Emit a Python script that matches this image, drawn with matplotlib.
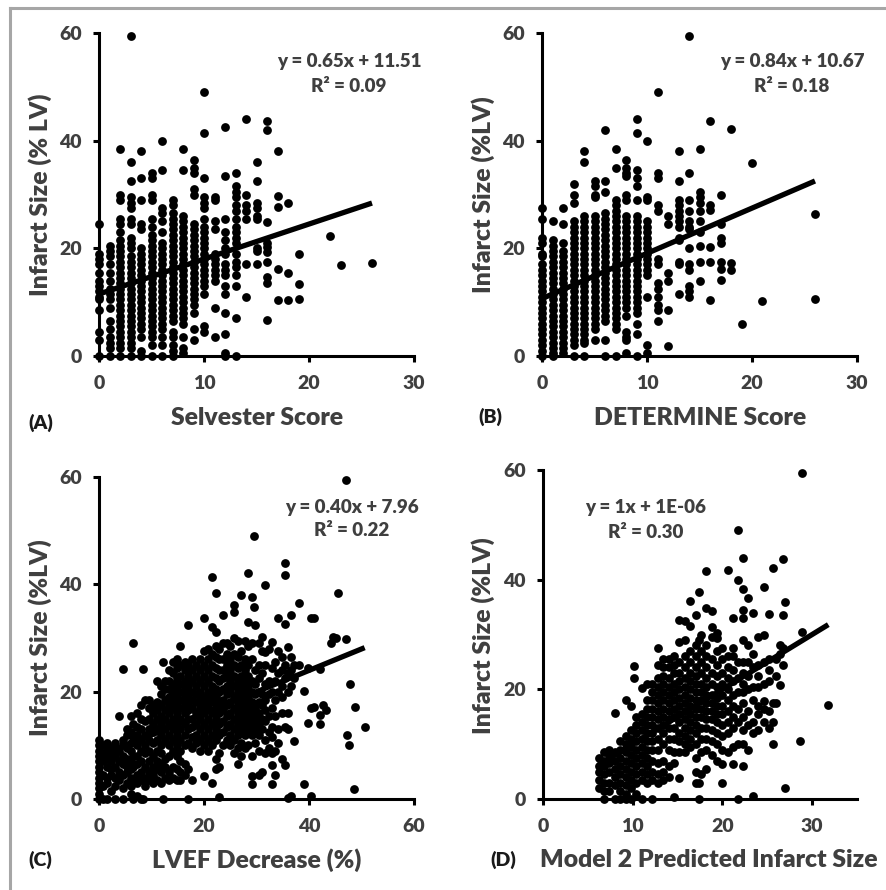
import matplotlib
matplotlib.use("Agg")
import matplotlib.pyplot as plt
from matplotlib.lines import Line2D

# -------------------------------------------------
# data (infarct size in %LV)
# -------------------------------------------------

# (A) Selvester score -> infarct sizes seen at that score
a_score = [0, 1, 2, 3, 4, 5, 6, 7, 8, 9, 10, 11, 12, 13, 14, 15, 16, 17, 18, 19, 22, 23, 26]
a_size = [
    [24.5, 19, 18, 17, 15.5, 14, 13, 12, 11, 10.5, 8.5, 4.5, 3, 0],
    [20.5, 19.5, 18.5, 17, 15.5, 14, 12.5, 11.5, 10.5, 9, 6.5, 5, 3.5, 2.5, 1.5, 0],
    [38.5, 30, 29, 25.5, 24.5, 23, 21.5, 20.5, 19.5, 18.5, 17.5, 16.5, 15.5, 14.5, 13.5, 12.5,
     11.5, 10.5, 9.5, 8.5, 7.5, 6.5, 5.5, 4.5, 3.5, 2.5, 1.5, 0],
    [59.5, 36, 32.5, 29.5, 28.5, 27.5, 25.5, 24.5, 22, 21, 20, 18.5, 17.5, 16.5, 15.5, 14.5,
     13.5, 12.5, 11.5, 10.5, 9.5, 8.5, 7.5, 6.5, 5.5, 4.5, 3.5, 2.5, 1.5, 0],
    [38, 33, 29, 24.5, 23.5, 20, 19, 18, 17, 16, 15, 14, 13, 12, 11, 10, 9, 8, 7, 6, 5, 3.5, 1, 0],
    [34, 33, 30, 29, 25.5, 24, 22.5, 21.5, 20.5, 19.5, 18.5, 17.5, 16.5, 15.5, 14.5, 13.5,
     12.5, 11.5, 10.5, 9.5, 8.5, 7.5, 6.5, 5.5, 4.5, 3.5, 2, 0],
    [40, 34.5, 27.5, 26.5, 25, 23, 21, 20, 19, 18, 17, 16, 15, 14, 13, 12, 11, 10, 9, 8, 7, 6,
     5, 3.5, 2, 0],
    [29, 28, 26.5, 25.5, 24.5, 23.5, 22.5, 21.5, 20.5, 19.5, 18.5, 17.5, 16.5, 15.5, 14.5, 13.5,
     12.5, 11.5, 10.5, 9.5, 8.5, 7.5, 6.5, 4.5, 3.5, 2, 1, 0],
    [38.5, 34.5, 26, 25, 24, 23, 22, 21, 20, 19, 18, 17, 16, 15, 14, 13, 12, 11, 10, 9, 8, 7, 6,
     3.5, 1.5, 0.5],
    [36.5, 35, 34, 31, 30, 24.5, 23.5, 22.5, 21.5, 20.5, 19.5, 18.5, 17.5, 16.5, 15.5, 14.5,
     13.5, 12.5, 11.5, 10.5, 9.5, 8, 5, 3],
    [49, 41.5, 33, 29.5, 28.5, 27.5, 25.5, 24, 23, 22, 21, 20, 19, 18, 17, 16, 15, 14, 13, 11.5,
     5.5, 4.5],
    [29.5, 29, 25, 23.5, 19, 18, 17, 16, 15, 14, 9, 3.5],
    [42.5, 33.5, 25.5, 23, 21.5, 20, 19, 17, 16, 15, 13, 11.5, 8, 4, 0.5, 0],
    [34, 31.5, 30.5, 29.5, 28, 27, 25.5, 24, 23, 22, 21, 19, 17.5, 16.5, 15, 13, 7, 0],
    [44, 30, 28, 27, 25.5, 17, 11],
    [36, 32.5, 28.5, 27.5, 26, 25.5, 20, 19.5, 17],
    [43.7, 41.9, 24.8, 20.9, 20.3, 19.4, 17.4, 14.7, 13.5, 6.6],
    [38, 29.8, 27.7, 16.2, 10.4],
    [28.4, 15.4, 10.4],
    [18.9, 13.3, 10.6],
    [22.3],
    [16.9],
    [17.3],
]

# (B) DETERMINE score -> infarct sizes
b_score = [0, 1, 2, 3, 4, 5, 6, 7, 8, 9, 10, 11, 12, 13, 14, 15, 16, 17, 18, 19, 20, 21, 26]
b_size = [
    [27.5, 25.5, 22, 21, 19, 18.5, 17, 16, 15, 14, 13, 12, 11, 10, 9, 8, 7, 6, 5, 4, 3, 2, 1, 0],
    [25, 21.5, 20.5, 19.5, 18.5, 17.5, 16.5, 15.5, 14.5, 13.5, 12.5, 11.5, 10.5, 9.5, 8.5, 7.5,
     6.5, 5.5, 4.5, 3.5, 2.5, 1.5, 0.5, 0],
    [27.5, 24.5, 21, 19.5, 18.5, 17.5, 16.5, 15.5, 14.5, 13.5, 12.5, 11.5, 10.5, 9.5, 8.5, 7.5,
     6.5, 5.5, 4.5, 3.5, 2.5, 1.5, 0.5],
    [32, 30, 28.5, 25, 24, 23, 22, 21, 20, 19, 18, 17, 16, 15, 14, 13, 12, 11, 10, 9, 8, 7, 6,
     5, 4, 3, 2, 0],
    [38, 36, 26, 25, 24, 23, 22, 21, 20, 19, 18, 17, 16, 15, 14, 13, 12, 11, 10, 9, 8, 7, 6, 5,
     4, 3, 2.5, 0],
    [32.5, 31.5, 30, 29.5, 26, 25, 24, 23, 22, 21, 20, 19, 18, 17, 16, 15, 14, 13, 12, 11, 10,
     9, 8, 7, 6, 5, 3],
    [42, 32.5, 30.5, 26.5, 25.5, 24.5, 23.5, 22.5, 21.5, 20.5, 19.5, 18.5, 17.5, 16.5, 15.5,
     14.5, 13.5, 12.5, 11.5, 10.5, 9.5, 8.5, 7.5, 6.5, 3, 0],
    [38.5, 35, 29, 28, 27, 26, 25, 24, 23, 22, 21, 20, 19, 18, 17, 16, 15, 14, 13, 12, 11, 10,
     9, 8, 7, 6, 5, 0],
    [36.5, 35, 34, 33.5, 30, 29, 26, 25, 24, 23, 22, 21, 20, 19, 18, 17, 16, 15, 14, 13, 12, 11,
     10, 9, 7.5, 4.5, 3.5, 3, 0.5],
    [44, 41.5, 34.5, 33, 31.5, 29, 26, 25, 24, 23, 22, 21, 20, 19, 18, 17, 16, 15, 14, 13, 12,
     11, 10, 9, 8, 6, 4, 0],
    [40, 29.5, 29, 25, 24, 23, 22, 21, 20, 19, 18, 17, 16, 15, 11, 2, 0.5],
    [49, 34, 33, 28, 27, 18, 17, 13.5, 12.5, 11, 9.5, 8.5, 6.5],
    [26, 24.5, 15.5, 14, 8.5, 1.8],
    [38, 32.5, 29, 28, 27, 26, 25, 24, 22, 21.5, 17.5, 17, 11.5],
    [59.5, 34, 29, 27, 25, 24, 23.5, 20, 17, 16, 13, 12, 11],
    [38.5, 30.5, 29.5, 28.5, 27, 25, 23, 20.5, 17.5, 14],
    [43.7, 28, 27.1, 20.3, 17.5, 10.4],
    [29.9, 24.6, 21.9, 20.9, 17.5, 16.1, 14.2],
    [42.1, 17.2, 16],
    [5.9],
    [35.8],
    [10.3],
    [26.4, 10.6],
]

# (C) LVEF decrease (%) -> infarct sizes, grouped in narrow x strips
c_lvef = [0, 0.7, 1.5, 2.3, 3.0, 3.8, 4.5, 5.3, 6.0, 6.5, 7.2, 8.0, 8.4, 8.7, 9.5, 10.3, 11.0,
          11.8, 12.2, 12.5, 13.3, 14.0, 14.8, 15.5, 16.3, 16.9, 17.0, 17.8, 18.5, 19.3, 20.0,
          20.8, 21.5, 22.2, 22.9, 23.6, 24.3, 25.0, 25.7, 26.4, 27.1, 27.8, 28.4, 29.1, 29.6,
          29.8, 30.5, 31.0, 31.6, 32.3, 33.0, 33.6, 34.1, 34.8, 35.4, 36.0, 36.6, 37.2, 38.0,
          39.0, 39.8, 40.3, 40.9, 42.0, 42.6, 43.3, 44.1, 44.5, 45.2, 45.5, 47.1, 47.3, 47.6,
          47.9, 48.5, 48.7, 50.6]
c_size = [
    [0, 1, 2, 3, 4, 5, 6, 7, 8, 9, 10, 11],
    [0, 2.5, 4.5, 7, 8.5, 10],
    [0, 3, 4, 6, 7.5, 9, 10.5],
    [1.5, 4.5, 5.5, 7, 8.5, 9.5],
    [0, 2.5, 4, 6, 8, 9.5, 10.5],
    [3.5, 5, 7, 9, 15.5],
    [0, 2, 4.5, 6.5, 8, 10, 11, 24.3],
    [3, 5, 6, 7.5, 9.5, 12, 13],
    [1, 2.5, 4, 5.5, 7, 9, 10.5, 12.5, 15.5],
    [0, 3.5, 6, 8, 11.5, 14, 29],
    [0.5, 3, 4.5, 6.5, 8, 10, 12, 13.5, 16],
    [0, 3.5, 5, 7, 9, 11, 13, 15, 17.5],
    [0, 24.3],
    [2.5, 4, 6, 8.5, 10, 12, 14.5, 18.5],
    [3.5, 5, 7, 9, 11, 13, 15, 17, 18.5],
    [3, 4.5, 6, 8, 10.5, 12.5, 14, 16, 17.5],
    [3.5, 5.5, 7, 9, 11, 13, 15, 16.5, 18, 22],
    [3, 5, 6.5, 8.5, 10, 12, 14, 15.5, 17.5, 19.5, 21],
    [0, 25.6],
    [4, 6, 7.5, 11, 13, 15, 16.5, 18.5, 20.5, 22],
    [3.5, 5, 8, 10, 12, 14, 16, 17.5, 19, 20.5, 22, 24],
    [4, 6, 9, 11, 13, 15, 17, 18.5, 20, 21.5, 23.5, 25.5],
    [3.5, 5.5, 8, 10, 12, 14, 16, 18, 19.5, 21, 22.5, 24.5, 26],
    [3.5, 5, 7, 9, 11, 13, 15, 17, 18.5, 20, 21.5, 23, 25, 28.5],
    [4.5, 6.5, 10, 12, 14, 16, 17.5, 19, 20.5, 22, 24, 25.5],
    [0, 5.5, 32.4],
    [10.5, 13, 15, 16.5, 18, 19.5, 21, 23, 25],
    [3.5, 9.5, 11.5, 13.5, 15, 17, 18.5, 20, 22, 24, 26],
    [10.5, 12, 14, 16, 18, 19.5, 21, 23, 25],
    [9, 11, 13, 15, 17, 18.5, 20, 22, 24, 26],
    [4.2, 10, 12, 14, 16, 17.5, 19, 21, 23, 25, 27.5, 33.8],
    [9, 11, 13, 15, 17, 18.5, 20, 22, 24, 26, 28],
    [3, 10, 12, 14, 16, 18, 19.5, 21, 23, 25, 27, 32, 41.4],
    [5.5, 7.5, 11, 13, 15, 17, 19, 20.5, 22.5, 24.5, 26.5, 28.5, 31.2, 38.3],
    [0.3, 6, 8.5, 12, 14, 16, 18, 20, 22, 24, 26, 28],
    [10, 12.5, 14.5, 16.5, 18.5, 20.5, 22.5, 24, 26, 29, 34.3],
    [11, 13.5, 15.5, 17.5, 19.5, 21, 23, 25, 27, 29],
    [10, 12, 14, 16, 18, 20, 22, 24, 26, 28.5],
    [8.5, 11, 13, 15, 17, 19, 21, 23, 25, 27, 30, 34.9, 36.1],
    [6.5, 9.5, 12, 14, 16, 18, 20, 22, 24.5, 26.5, 29.5],
    [8, 10.5, 13, 15, 17, 19, 21, 23, 25, 27.5, 38],
    [9.5, 12, 14, 16, 18, 20, 22, 24, 26, 29.5],
    [10, 13, 15, 17, 19, 21, 23, 25, 28.5, 33, 42.2],
    [2.8, 4.2, 8, 12, 14, 16, 18, 20, 22, 26, 29, 37.7],
    [35.7, 49],
    [10.5, 13, 15, 17, 19.5, 21.5, 24, 32.4],
    [4.5, 9, 12, 14, 16, 18, 20, 22.5, 25, 29],
    [5, 13, 15, 17.5, 19.5, 23.5, 27.5, 30.2],
    [8.5, 11, 14.5, 16.5, 18.5, 21.5, 25, 27.3, 39.9],
    [9.5, 12.5, 15.5, 19.5, 22, 28],
    [2.8, 6.4, 8.5, 11.5, 13.5, 17, 20, 24.5, 29.3],
    [4.5, 9, 15.5, 18.5, 22, 25.5],
    [10.5, 13, 20, 23.5, 27.6, 33.7],
    [7.5, 16, 19, 21, 24, 26.5],
    [6.3, 13.5, 22.5, 25, 32.7, 41.8, 44],
    [0.2, 13, 16, 20, 23.5, 28.4],
    [0.5, 21, 24, 26.5, 34.3],
    [10.8, 22.5, 25],
    [25, 36.5],
    [2.8, 20.1],
    [14.1, 24.5],
    [0.5, 17, 33.7],
    [17.2, 33.7],
    [14, 15.7, 24.2],
    [17.5],
    [16.6],
    [29],
    [30.2],
    [30],
    [38.3],
    [29.8, 59.4],
    [12],
    [10.1],
    [21.4],
    [1.9],
    [17.2],
    [13.5],
]

# (D) model 2 predicted infarct size -> measured infarct sizes
d_pred = [6.2, 6.8, 7.4, 8.0, 8.6, 9.2, 9.8, 10.1, 10.4, 11.0, 11.6, 12.2, 12.8, 13.4, 14.0,
          14.6, 15.2, 15.8, 16.4, 17.0, 17.4, 17.6, 18.2, 18.8, 19.4, 20.0, 20.6, 21.2, 21.7,
          22.3, 22.9, 23.4, 24.0, 24.6, 25.2, 25.6, 26.0, 26.4, 26.8, 27.0, 28.6, 28.9, 31.8]
d_size = [
    [2, 3.5, 5, 6, 7.5],
    [0, 1.5, 3, 4.5, 6, 7, 8.5],
    [1.4, 3, 5, 6.5, 8, 9],
    [0, 2.5, 4, 5.5, 7, 8.5, 15.7],
    [0, 1.5, 3, 4.5, 6, 7.5, 9, 10.5],
    [0, 1, 2.5, 4, 5.5, 7, 8.5, 10, 11.5, 18.1],
    [0, 2, 3.5, 5, 6.5, 8, 9.5, 11, 12.5, 16.9],
    [22, 24.3],
    [1, 3, 4.5, 6, 7.5, 9, 10.5, 12, 13.5, 15],
    [0, 3.5, 5, 6.5, 8, 9.5, 11, 12.5, 14, 15.5, 20.2],
    [3, 4.5, 6, 7.5, 9, 10.5, 12, 13.5, 15, 16.5, 18, 21],
    [0, 3.5, 5, 7, 9, 10.5, 12, 13.5, 15, 16.5, 18, 19.5, 21],
    [3, 4.5, 6.5, 9, 11, 13, 14.5, 16, 17.5, 19, 20.5, 22, 24.5, 27.6],
    [3.5, 5, 7, 10, 12, 13.5, 15, 16.5, 18, 19.5, 21, 22.5, 24, 25.5],
    [4, 6, 9, 11, 13, 14.5, 16, 17.5, 19, 20.5, 22, 24, 25.5],
    [0.3, 6.5, 8.5, 11, 13, 15, 16.5, 18, 19.5, 21, 23, 24.5, 26],
    [3.8, 8.5, 10.5, 12, 14, 15.5, 17, 18.5, 20, 21.5, 23, 25, 28.7, 32.7],
    [8.5, 10, 11.5, 13, 14.5, 16, 17.5, 19, 20.5, 22, 24, 26, 29, 32.4],
    [9.5, 11, 12.5, 14, 15.5, 17, 18.5, 20, 21.5, 23, 25, 27, 31.5, 36.1],
    [3, 5, 7.5, 10, 12, 13.5, 15, 16.5, 18, 19.5, 21, 22.5, 24, 26, 28, 33.6],
    [0, 2.9, 29, 37.8],
    [4.5, 8.5, 11, 13, 15, 16.5, 18, 19.5, 21, 23, 25, 27, 30],
    [5.5, 9, 11, 13, 14.5, 16, 17.5, 19, 20.5, 22, 24, 26, 28, 34.8, 41.5],
    [8, 10.5, 12.5, 14.5, 16, 17.5, 19, 21, 23, 25.5, 29.5, 31.3, 34.2],
    [7, 10, 12, 14, 15.5, 17, 18.5, 20.5, 22.5, 24.5, 27, 29.3, 30.2],
    [2.9, 6.4, 9, 11.5, 13.5, 15.5, 17, 19, 21, 23, 25.5, 27.5],
    [8.5, 12, 14, 16, 18, 20, 22, 24, 26, 41.8],
    [6.4, 9.5, 13, 15, 17, 19, 21.5, 23.5, 26, 27.5, 33],
    [0, 10, 14, 16.5, 19.5, 22, 25, 40, 49.1],
    [6, 10, 12.5, 15, 17.5, 19.5, 21, 23, 25, 29, 33, 34.5, 38.3, 44],
    [9, 13.5, 16, 20, 22.5, 25, 28, 36.6],
    [0.5, 12, 14, 18, 20.5, 24, 26.5, 33.9],
    [12.5, 15.5, 17, 20.5, 22.5, 24.5, 29.5],
    [14, 16.5, 17.8, 21, 25, 30, 38.6],
    [13, 16, 21.5, 23.5, 25.5, 33.7],
    [10, 14, 17.5, 42.2],
    [17.5, 22.5, 25.5],
    [20.8, 26.5, 28],
    [24.5, 27.5, 33.6, 43.8],
    [2, 35.9],
    [10.5],
    [30.4, 59.4],
    [17.2],
]

# trend lines as printed on the figure: (slope, intercept)
fits = [(0.65, 11.51), (0.84, 10.67), (0.40, 7.96), (1.0, 1e-06)]
eq_texts = [("y = 0.65x + 11.51", "R² = 0.09"),
            ("y = 0.84x + 10.67", "R² = 0.18"),
            ("y = 0.40x + 7.96", "R² = 0.22"),
            ("y = 1x + 1E-06", "R² = 0.30")]
x_titles = ["Selvester Score", "DETERMINE Score", "LVEF Decrease (%)",
            "Model 2 Predicted Infarct Size"]
y_titles = ["Infarct Size (% LV)", "Infarct Size (%LV)", "Infarct Size (%LV)",
            "Infarct Size (%LV)"]
panel_tags = ["(A)", "(B)", "(C)", "(D)"]
x_ticks = [[0, 10, 20, 30], [0, 10, 20, 30], [0, 20, 40, 60], [0, 10, 20, 30]]
x_limits = [30, 30, 60, 35]


def flatten(xs, cols):
    px, py = [], []
    for x, col in zip(xs, cols):
        px += [x] * len(col)
        py += col
    return px, py


plt.rcParams["font.family"] = ["Lato", "DejaVu Sans"]
plt.rcParams["font.weight"] = "heavy"

W, H = 886, 890
fig = plt.figure(figsize=(W / 100, H / 100), dpi=100)
GREY = "#3f3f3f"


def ax_at(x0, x1, y_top, y_bot):
    return fig.add_axes([x0 / W, 1 - y_bot / H, (x1 - x0) / W, (y_bot - y_top) / H])


def ftext(x, y, s, **kw):
    fig.text(x / W, 1 - y / H, s, ha="center", va="center", **kw)


axes = [ax_at(99, 414, 33, 356), ax_at(542, 857, 33, 356),
        ax_at(99, 414, 477, 799), ax_at(543, 857, 470, 799)]
datasets = [flatten(a_score, a_size), flatten(b_score, b_size),
            flatten(c_lvef, c_size), flatten(d_pred, d_size)]

for i, ax in enumerate(axes):
    px, py = datasets[i]
    ax.scatter(px, py, s=40, color="black", linewidths=0, clip_on=False, zorder=3)
    m, b = fits[i]
    x0, x1 = min(px), max(px)
    ax.plot([x0, x1], [m * x0 + b, m * x1 + b], color="black", lw=3.8,
            solid_capstyle="butt", zorder=4)

    ax.set_xlim(0, x_limits[i])
    ax.set_ylim(0, 60)
    ax.set_xticks(x_ticks[i])
    ax.set_yticks([0, 20, 40, 60])
    for side in ["top", "right"]:
        ax.spines[side].set_visible(False)
    for side in ["left", "bottom"]:
        ax.spines[side].set_linewidth(2.2)
    ax.tick_params(direction="out", length=4.5, width=2.2, labelsize=14,
                   labelcolor=GREY)
    ax.tick_params(axis="y", pad=8)
    ax.tick_params(axis="x", pad=9)

# axis titles, equations and panel tags (pixel positions from the figure)
ylab_pos = [(40, 195), (483, 195), (40, 638), (483, 636)]
xlab_pos = [(257, 418), (700, 418), (257, 860), (709, 860)]
tag_pos = [(41, 423), (490, 417), (40, 860), (503, 860)]
eq_pos = [(349, 62, 87), (792, 62, 87), (352, 507, 531), (646, 507, 532)]

for i in range(4):
    ftext(*ylab_pos[i], y_titles[i], rotation=90, fontsize=17.8, color=GREY)
    ftext(*xlab_pos[i], x_titles[i], fontsize=17.8, color=GREY)
    ftext(*tag_pos[i], panel_tags[i], fontsize=14, color="#1a1a1a")
    ex, ey1, ey2 = eq_pos[i]
    ftext(ex, ey1, eq_texts[i][0], fontsize=13.5, color=GREY)
    ftext(ex, ey2, eq_texts[i][1], fontsize=13.5, color=GREY)

# light grey frame along the top and left edges
fig.add_artist(Line2D([10 / W, 10 / W], [0, 1 - 8 / H], transform=fig.transFigure,
                      color="#a6a6a6", lw=2.2))
fig.add_artist(Line2D([10 / W, 1], [1 - 8 / H, 1 - 8 / H], transform=fig.transFigure,
                      color="#a6a6a6", lw=2.2))

fig.savefig("out.png", dpi=100)
